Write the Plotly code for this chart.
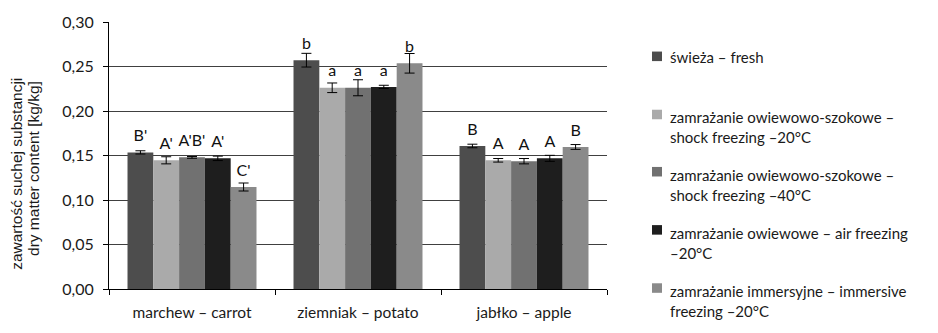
import plotly.graph_objects as go

# Dry matter content of fresh and frozen products [kg/kg]
categories = ["marchew – carrot", "ziemniak – potato", "jabłko – apple"]

series_names = [
    "świeża – fresh",
    "zamrażanie owiewowo-szokowe – shock freezing –20°C",
    "zamrażanie owiewowo-szokowe – shock freezing –40°C",
    "zamrażanie owiewowe – air freezing –20°C",
    "zamrażanie immersyjne – immersive freezing –20°C",
]

fresh = [0.1535, 0.2571, 0.1607]
shock20 = [0.1446, 0.2261, 0.1446]
shock40 = [0.1479, 0.2261, 0.1436]
air20 = [0.1468, 0.2271, 0.1468]
immersive20 = [0.1146, 0.2536, 0.1596]

fresh_sd = [0.0018, 0.0077, 0.0020]
shock20_sd = [0.0040, 0.0054, 0.0020]
shock40_sd = [0.0010, 0.0090, 0.0030]
air20_sd = [0.0025, 0.0018, 0.0034]
immersive20_sd = [0.0045, 0.0110, 0.0027]

# homogeneous groups
fresh_grp = ["B'", "b", "B"]
shock20_grp = ["A'", "a", "A"]
shock40_grp = ["A'B'", "a", "A"]
air20_grp = ["A'", "a", "A"]
immersive20_grp = ["C'", "b", "B"]

legend_lines = [
    ["świeża – fresh"],
    ["zamrażanie owiewowo-szokowe –", "shock freezing –20°C"],
    ["zamrażanie owiewowo-szokowe –", "shock freezing –40°C"],
    ["zamrażanie owiewowe – air freezing", "–20°C"],
    ["zamrażanie immersyjne – immersive", "freezing –20°C"],
]

y_title_lines = ["zawartość suchej substancji", "dry matter content [kg/kg]"]

values = [fresh, shock20, shock40, air20, immersive20]
errors = [fresh_sd, shock20_sd, shock40_sd, air20_sd, immersive20_sd]
groups = [fresh_grp, shock20_grp, shock40_grp, air20_grp, immersive20_grp]
colors = ["#4d4d4d", "#aaaaaa", "#717171", "#1e1e1e", "#8a8a8a"]

LABEL_FONT = "Lato"
TITLE_FONT = "Arial, Liberation Sans, sans-serif"
LABEL_LIFT = 0.0172   # group letters sit a fixed distance above the bar top

fig = go.Figure()

for i, (name, vals, err, col) in enumerate(zip(series_names, values, errors, colors)):
    fig.add_trace(go.Bar(
        x=categories, y=vals, name=name,
        marker=dict(color=col, line=dict(width=0)),
        offsetgroup=str(i),
        error_y=dict(type="data", array=err, visible=True,
                     color="#000000", thickness=1, width=5),
        showlegend=False,
    ))

for i, (vals, grp) in enumerate(zip(values, groups)):
    fig.add_trace(go.Scatter(
        x=categories, y=[v + LABEL_LIFT for v in vals], text=grp, mode="text",
        textposition="middle center",
        textfont=dict(family=LABEL_FONT, size=16, color="#111111"),
        offsetgroup=str(i),
        cliponaxis=False,
        showlegend=False, hoverinfo="skip",
    ))

# plot area in pixels
L, R, T, B = 109, 607, 19, 299
W, H = 938, 333
pw, ph = R - L, B - T

def px_x(x):
    return (x - L) / pw

def px_y(y):
    return (B - y) / ph

legend_square_y = [55, 116, 176, 237, 298]
legend_text_y = [[56], [119, 140], [179, 200], [240, 261], [301, 322]]

shapes = []
annotations = []
for col, sy, lines, tys in zip(colors, legend_square_y, legend_lines, legend_text_y):
    shapes.append(dict(type="rect", xref="paper", yref="paper",
                       x0=px_x(652), x1=px_x(662),
                       y0=px_y(sy + 5), y1=px_y(sy - 5),
                       fillcolor=col, line=dict(width=0)))
    for line, ty in zip(lines, tys):
        annotations.append(dict(
            text=line, xref="paper", yref="paper",
            x=px_x(668), y=px_y(ty), xanchor="left", yanchor="middle",
            showarrow=False,
            font=dict(family=LABEL_FONT, size=15, color="#1a1a1a"),
        ))

# two-line vertical axis title, each line starting just above the x axis
for line, cx, y0 in zip(y_title_lines, [17, 34], [281, 267]):
    annotations.append(dict(
        text=line, xref="paper", yref="paper",
        x=px_x(cx), y=px_y(y0), xanchor="center", yanchor="bottom",
        textangle=-90, showarrow=False,
        font=dict(family=TITLE_FONT, size=15.5, color="#1a1a1a"),
    ))

fig.update_layout(
    width=W, height=H,
    margin=dict(l=L, r=W - R, t=T, b=H - B, pad=0),
    plot_bgcolor="white", paper_bgcolor="white",
    barmode="group", bargap=0.223, bargroupgap=0,
    scattermode="group", scattergap=0.223,
    separators=", ",
    showlegend=False,
    shapes=shapes,
    annotations=annotations,
    xaxis=dict(
        showline=True, linecolor="#000000", linewidth=1,
        ticks="outside", tickson="boundaries", ticklen=5, tickcolor="#000000",
        tickfont=dict(family=LABEL_FONT, size=15.5, color="#1a1a1a"),
        ticklabelstandoff=9,
        showgrid=False, zeroline=False,
    ),
    yaxis=dict(
        range=[0, 0.30], dtick=0.05, tickformat=".2f",
        showline=True, linecolor="#000000", linewidth=1,
        ticks="outside", ticklen=5, tickcolor="#000000",
        tickfont=dict(family=LABEL_FONT, size=16, color="#1a1a1a"),
        ticklabelstandoff=6,
        showgrid=True, gridcolor="#404040", gridwidth=1,
        zeroline=False,
    ),
)

fig.write_html("out.html")
